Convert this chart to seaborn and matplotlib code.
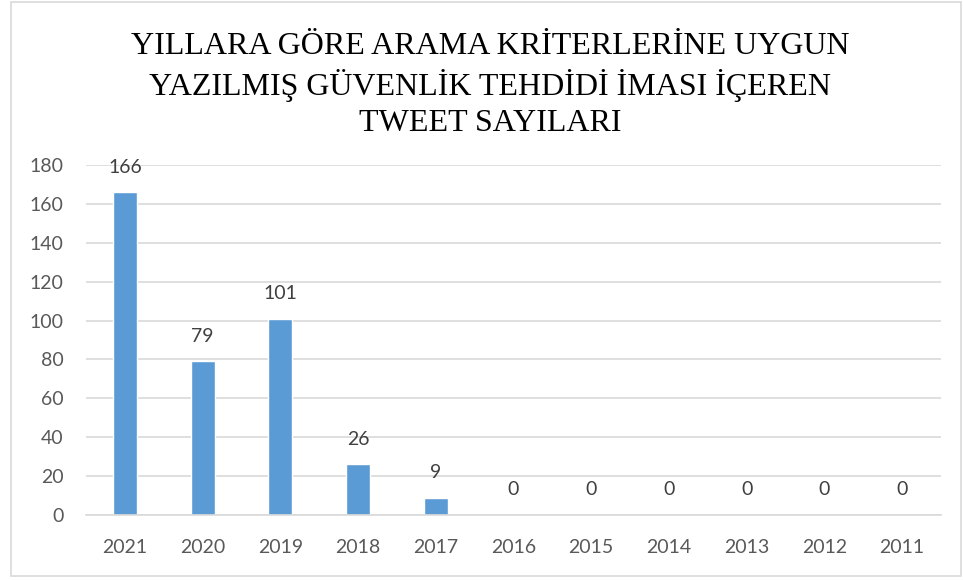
import pandas as pd
import seaborn as sns
import matplotlib.pyplot as plt
from matplotlib.patches import Rectangle

# Data
years = ["2021", "2020", "2019", "2018", "2017", "2016", "2015", "2014", "2013", "2012", "2011"]
counts = [166, 79, 101, 26, 9, 0, 0, 0, 0, 0, 0]

df = pd.DataFrame({"Yil": years, "Sayi": counts})

sns.set_style("white")
plt.rcParams["font.family"] = ["Lato", "DejaVu Sans"]

fig = plt.figure(figsize=(9.63, 5.8), dpi=100)
ax = fig.add_axes([0.0893, 0.112, 0.8877, 0.6035])

sns.barplot(data=df, x="Yil", y="Sayi", order=years, color="#5B9BD5",
            saturation=1, width=0.31, ax=ax)

ax.set_ylim(0, 180)
ax.set_yticks(range(0, 181, 20))
ax.set_xlim(-0.5, len(years) - 0.5)
ax.grid(axis="y", color="#D9D9D9", linewidth=1.2)
ax.set_axisbelow(True)
for s in ["top", "right", "left"]:
    ax.spines[s].set_visible(False)
ax.spines["bottom"].set_color("#D9D9D9")
ax.spines["bottom"].set_linewidth(1.2)
ax.tick_params(length=0, labelsize=14, labelcolor="#595959")
ax.tick_params(axis="x", pad=17)
ax.tick_params(axis="y", pad=16)
ax.set_xlabel("")
ax.set_ylabel("")

# Value labels
for i, v in enumerate(counts):
    ax.annotate(str(v), (i, v), xytext=(0, 12), textcoords="offset points",
                ha="center", va="bottom", fontsize=14, color="#404040")

fig.text(0.509, 0.945,
         "YILLARA GÖRE ARAMA KRİTERLERİNE UYGUN\nYAZILMIŞ GÜVENLİK TEHDİDİ İMASI İÇEREN\nTWEET SAYILARI",
         ha="center", va="top", fontsize=23, family="Liberation Serif",
         color="black", linespacing=1.32)

# Chart border
fig.patches.append(Rectangle((0.011, 0.007), 0.987, 0.99, transform=fig.transFigure,
                             fill=False, edgecolor="#D9D9D9", linewidth=1.2))

fig.savefig("out.png", dpi=100)
